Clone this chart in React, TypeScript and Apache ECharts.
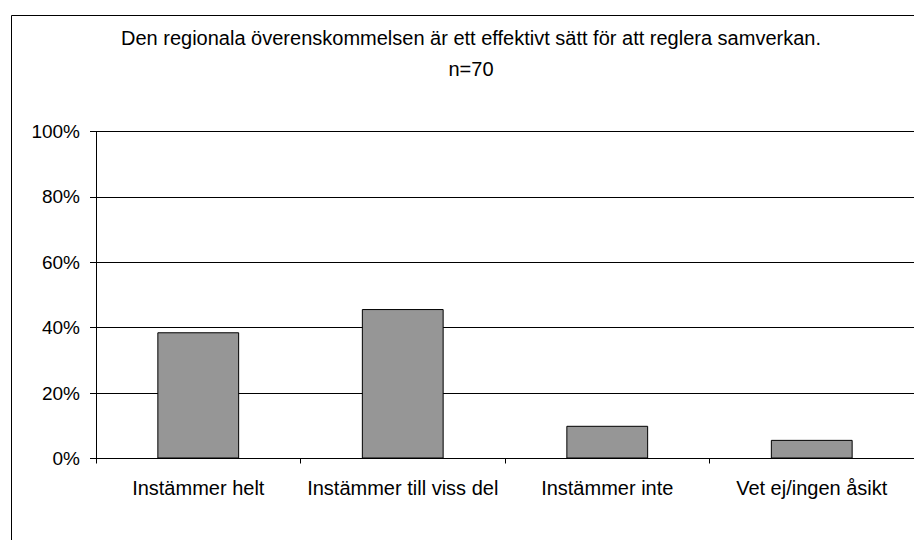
import React, { useEffect, useRef } from "react";
import * as echarts from "echarts";

const titleLines = [
  "Den regionala överenskommelsen är ett effektivt sätt för att reglera samverkan.",
  "n=70",
];
const categories = [
  "Instämmer helt",
  "Instämmer till viss del",
  "Instämmer inte",
  "Vet ej/ingen åsikt",
];
const values = [38.6, 45.7, 10.0, 5.7];

export default function App() {
  const ref = useRef<HTMLDivElement>(null);
  useEffect(() => {
    if (!ref.current) return;
    const chart = echarts.init(ref.current, null, { renderer: "svg" });
    const font = "Liberation Sans, Arial, sans-serif";
    chart.setOption({
      animation: false,
      backgroundColor: "#ffffff",
      title: {
        text: titleLines.join("\n"),
        left: 466,
        textAlign: "center",
        top: 17,
        textStyle: {
          fontFamily: font,
          fontSize: 20,
          fontWeight: "normal",
          color: "#000",
          lineHeight: 31,
        },
      },
      graphic: [
        {
          type: "rect",
          shape: { x: 11.5, y: 15.5, width: 1000, height: 1000 },
          style: { fill: "none", stroke: "#000", lineWidth: 1 },
          silent: true,
        },
      ],
      grid: { left: 96, top: 131.5, right: -2, bottom: 81.5 },
      xAxis: {
        type: "category",
        data: categories,
        axisLine: { show: true, lineStyle: { color: "#000", width: 1 } },
        axisTick: { show: true, length: 5, inside: false, lineStyle: { color: "#000" } },
        axisLabel: { fontFamily: font, fontSize: 20, color: "#000", margin: 19, interval: 0 },
        splitLine: { show: false },
      },
      yAxis: {
        type: "value",
        min: 0,
        max: 100,
        interval: 20,
        axisLine: { show: true, lineStyle: { color: "#000", width: 1 } },
        axisTick: { show: true, length: 6, inside: false, lineStyle: { color: "#000" } },
        axisLabel: {
          fontFamily: font,
          fontSize: 19,
          color: "#000",
          margin: 16,
          formatter: (v: number) => `${v}%`,
        },
        splitLine: { show: true, lineStyle: { color: "#000", width: 1 } },
      },
      series: [
        {
          type: "bar",
          data: values,
          barWidth: "40%",
          itemStyle: { color: "#969696", borderColor: "#000", borderWidth: 1 },
        },
      ],
    });
    return () => chart.dispose();
  }, []);
  return (
    <div
      ref={ref}
      style={{ position: "absolute", left: 0, top: 0, width: 914, height: 540 }}
    />
  );
}
